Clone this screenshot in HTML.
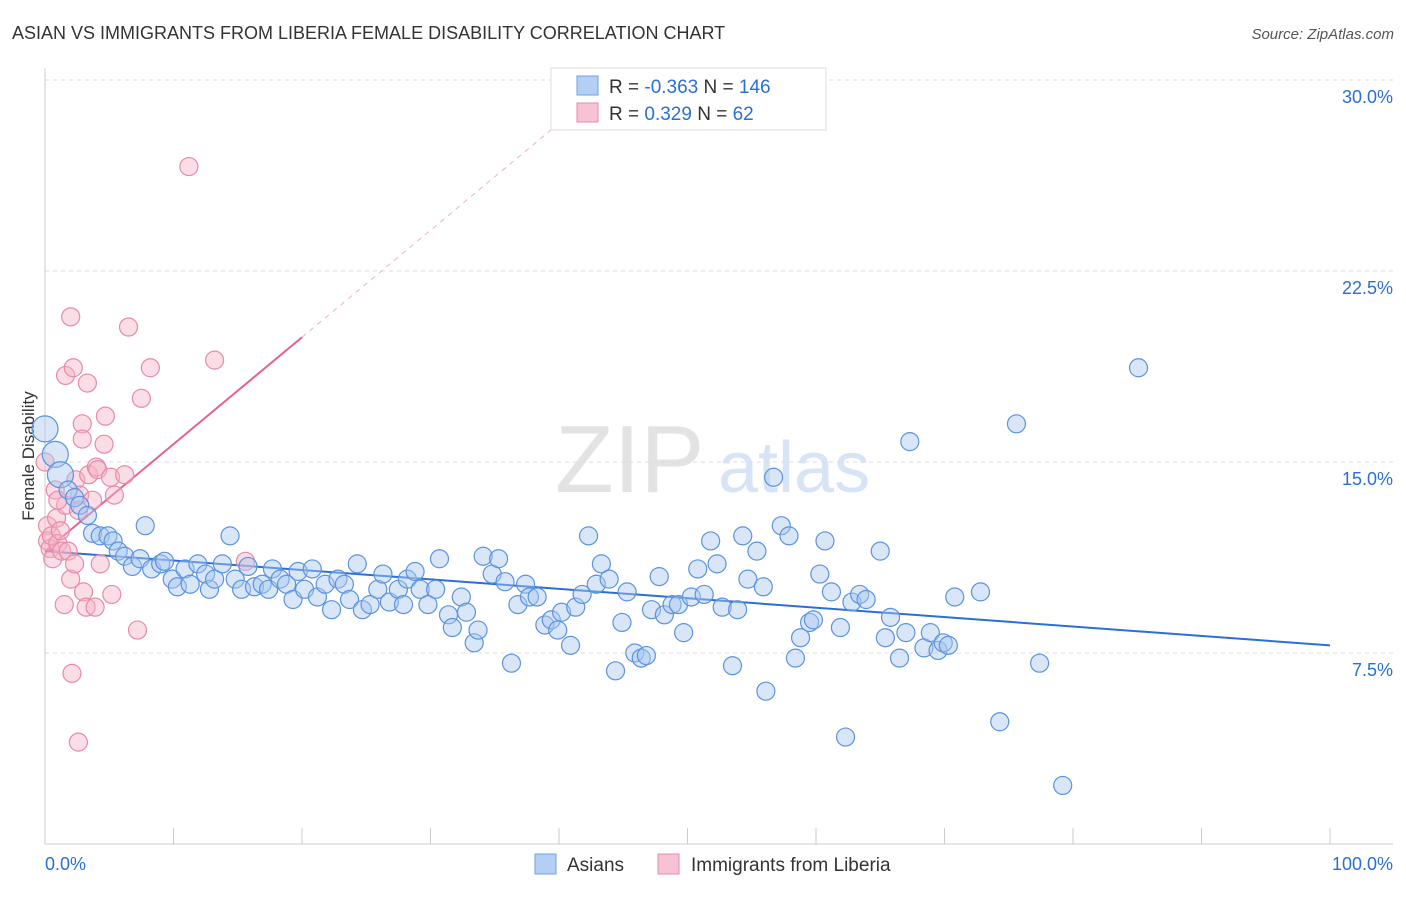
<!DOCTYPE html>
<html><head><meta charset="utf-8"><style>
body{margin:0;background:#fff;font-family:"Liberation Sans",sans-serif;}
svg text{font-family:"Liberation Sans",sans-serif;}
</style></head><body>
<svg id="chart" width="1406" height="892" viewBox="0 0 1406 892" xmlns="http://www.w3.org/2000/svg">
<text x="12" y="39" font-size="18" fill="#333">ASIAN VS IMMIGRANTS FROM LIBERIA FEMALE DISABILITY CORRELATION CHART</text>
<text x="1394" y="39" font-size="15" fill="#555" font-style="italic" text-anchor="end">Source: ZipAtlas.com</text>
<text transform="translate(34,456) rotate(-90)" font-size="17" fill="#333" text-anchor="middle">Female Disability</text>
<g>
<text x="555" y="492" font-size="96" font-family="Liberation Serif" fill="#e3e3e3">ZIP</text>
<text x="718" y="492" font-size="72" fill="#d6e4f5">atlas</text>
</g>
<g id="grid"></g><g id="axes"></g><g id="trends"></g><g id="pts"></g>
<g>
<rect x="551" y="68" width="275" height="62" fill="#fff" stroke="#ddd"/>
<rect x="577" y="76" width="21" height="19" fill="#b3cff3" stroke="#6fa0e0"/>
<text x="609" y="93" font-size="19" fill="#333">R = <tspan fill="#2a6fd6">-0.363</tspan>   N = <tspan fill="#2a6fd6">146</tspan></text>
<rect x="577" y="103" width="21" height="19" fill="#f7c3d2" stroke="#e88aa8"/>
<text x="609" y="120" font-size="19" fill="#333">R =  <tspan fill="#2a6fd6"> 0.329</tspan>   N =  <tspan fill="#2a6fd6">  62</tspan></text>
</g>
<g>
<rect x="535" y="854" width="21" height="20" fill="#b3cff3" stroke="#6fa0e0"/>
<text x="567" y="871" font-size="19" fill="#333">Asians</text>
<rect x="658" y="854" width="21" height="20" fill="#f7c3d2" stroke="#e88aa8"/>
<text x="691" y="871" font-size="19" fill="#333">Immigrants from Liberia</text>
</g>
</svg>
<script>
const yTicks=[7.5,15,22.5,30];
const xTickLabels=["0.0%","100.0%"];
const asianX=[0,0.8,1.2,1.8,2.3,2.7,3.3,3.7,4.3,4.9,5.3,5.7,6.2,6.8,7.4,7.8,8.3,9.0,9.3,9.9,10.3,10.9,11.3,11.9,12.5,12.8,13.2,13.8,14.4,14.8,15.3,15.8,16.3,16.9,17.4,17.7,18.3,18.8,19.3,19.7,20.2,20.8,21.2,21.8,22.3,22.8,23.3,23.7,24.3,24.7,25.3,25.9,26.3,26.8,27.5,27.9,28.2,28.8,29.2,29.8,30.4,30.7,31.4,31.7,32.4,32.8,33.4,33.7,34.1,34.8,35.3,35.8,36.3,36.8,37.4,37.7,38.3,38.9,39.4,39.9,40.2,40.9,41.3,41.8,42.3,42.9,43.3,43.9,44.4,44.9,45.3,45.9,46.4,46.8,47.2,47.8,48.2,48.8,49.3,49.7,50.3,50.8,51.3,51.8,52.3,52.7,53.5,53.9,54.3,54.7,55.4,55.9,56.1,56.7,57.3,57.9,58.4,58.8,59.5,59.8,60.3,60.7,61.2,61.9,62.3,62.8,63.4,63.9,65.0,65.4,65.8,66.5,67.0,67.3,68.4,68.9,69.5,69.9,70.3,70.8,72.8,74.3,75.6,77.4,79.2,85.1];
const asianY=[16.3,15.3,14.5,13.9,13.6,13.3,12.9,12.2,12.1,12.1,11.9,11.5,11.3,10.9,11.2,12.5,10.8,11.0,11.1,10.4,10.1,10.8,10.2,11.0,10.6,10.0,10.4,11.0,12.1,10.4,10.0,10.9,10.1,10.2,10.0,10.8,10.4,10.2,9.6,10.7,10.0,10.8,9.7,10.2,9.2,10.4,10.2,9.6,11.0,9.2,9.4,10.0,10.6,9.5,10.0,9.4,10.4,10.7,10.0,9.4,10.0,11.2,9.0,8.5,9.7,9.1,7.9,8.4,11.3,10.6,11.2,10.3,7.1,9.4,10.2,9.7,9.7,8.6,8.8,8.4,9.1,7.8,9.3,9.8,12.1,10.2,11.0,10.4,6.8,8.7,9.9,7.5,7.3,7.4,9.2,10.5,9.0,9.4,9.4,8.3,9.7,10.8,9.8,11.9,11.0,9.3,7.0,9.2,12.1,10.4,11.5,10.1,6.0,14.4,12.5,12.1,7.3,8.1,8.7,8.8,10.6,11.9,9.9,8.5,4.2,9.5,9.8,9.6,11.5,8.1,8.9,7.3,8.3,15.8,7.7,8.3,7.6,7.9,7.8,9.7,9.9,4.8,16.5,7.1,2.3,18.7];
const liberiaX=[0,0.2,0.2,0.4,0.5,0.6,0.8,0.9,1.0,1.2,1.3,1.5,1.6,1.8,2.0,2.0,2.1,2.2,2.3,2.4,2.6,2.7,2.9,2.9,3.0,3.2,3.3,3.4,3.7,3.9,4.0,4.1,4.3,4.6,4.7,5.1,5.2,5.4,6.2,6.5,7.2,7.5,8.2,11.2,13.2,15.6,1.6,1.0,2.6];
const liberiaY=[15.0,12.5,11.9,11.6,12.1,11.2,13.9,12.8,11.8,12.3,11.5,9.4,18.4,11.5,10.4,20.7,6.7,18.7,11.0,14.3,4.0,13.7,16.5,15.9,9.9,9.3,18.1,14.5,13.5,9.3,14.8,14.7,11.0,15.7,16.8,14.4,9.8,13.7,14.5,20.3,8.4,17.5,18.7,26.6,19.0,11.1,13.3,13.5,13.1];
const asianTrend=[11.5,7.8];      // value at x=0, x=100
const liberiaTrend=[11.5,19.9];   // value at x=0, x=20
const liberiaDashEnd=42.4;

const X0=45,X1=1330,Y0=844,PPU=191/7.5;
const xs=v=>X0+(X1-X0)*v/100, ys=v=>Y0-v*PPU;
const NS="http://www.w3.org/2000/svg";
function mk(tag,attrs,parent){const e=document.createElementNS(NS,tag);for(const k in attrs)e.setAttribute(k,attrs[k]);parent.appendChild(e);return e;}
const grid=document.getElementById('grid'),axes=document.getElementById('axes'),trends=document.getElementById('trends'),pts=document.getElementById('pts');
yTicks.forEach(t=>{
  const l=mk('line',{x1:X0,x2:1393,y1:ys(t),y2:ys(t),stroke:'#ddd','stroke-dasharray':'4,4'},grid);
  
  
  const tx=mk('text',{x:1393,y:ys(t)+23,'font-size':18,fill:'#2a6fd6','text-anchor':'end'},grid);
  tx.textContent=t.toFixed(1)+'%';
  
  
});
const ya=mk('line',{x1:X0,x2:X0,y1:68,y2:Y0,stroke:'#ccc'},axes);


const xa=mk('line',{x1:X0,x2:1393,y1:Y0,y2:Y0,stroke:'#ccc'},axes);


for(let i=0;i<=10;i++){
  const t=mk('line',{x1:xs(i*10),x2:xs(i*10),y1:828,y2:Y0,stroke:'#ccc'},axes);
  
  
}
[[0,'start',X0],[1,'end',1393]].forEach(([i,a,x])=>{
  const t=mk('text',{x:x,y:870,'font-size':18,fill:'#2a6fd6','text-anchor':a},axes);
  t.textContent=xTickLabels[i];
  
  
});
function drawPts(X,Y,fill,stroke,name){
  X.forEach((x,i)=>{
    const c=mk('circle',{cx:xs(x),cy:ys(Y[i]),r:(name==='asian-point'&&i<3)?13:9,fill:fill,'fill-opacity':0.45,stroke:stroke,'stroke-width':1.2},pts);
    
    
  });
}
drawPts(liberiaX,liberiaY,'#f5b3c6','#e88aa8','liberia-point');
drawPts(asianX,asianY,'#a9c8f0','#5b93de','asian-point');
const bt=mk('line',{x1:xs(0),y1:ys(asianTrend[0]),x2:xs(100),y2:ys(asianTrend[1]),stroke:'#2a6fd6','stroke-width':2},trends);


const pt=mk('line',{x1:xs(0),y1:ys(liberiaTrend[0]),x2:xs(20),y2:ys(liberiaTrend[1]),stroke:'#e8608e','stroke-width':2},trends);


const slope=(liberiaTrend[1]-liberiaTrend[0])/20;
const pd=mk('line',{x1:xs(20),y1:ys(liberiaTrend[1]),x2:xs(liberiaDashEnd),y2:ys(liberiaTrend[0]+slope*liberiaDashEnd),stroke:'#f0b0c4','stroke-width':1,'stroke-dasharray':'5,5'},trends);


</script>
</body></html>
